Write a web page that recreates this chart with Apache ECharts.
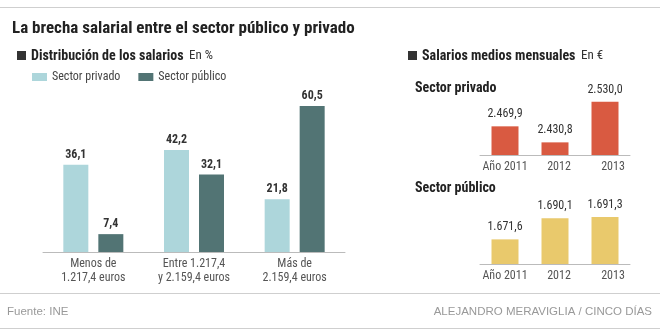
<!DOCTYPE html>
<html>
<head>
<meta charset="utf-8">
<script src="https://cdn.jsdelivr.net/npm/echarts@6/dist/echarts.min.js"></script>
<style>
  html, body { margin: 0; padding: 0; background: #fff; }
  #chart { width: 664px; height: 334px; }
</style>
</head>
<body>
<div id="chart"></div>
<script>
// Salary distribution by bracket (%)
const brackets = ['Menos de\n1.217,4 euros', 'Entre 1.217,4\ny 2.159,4 euros', 'Más de\n2.159,4 euros'];
const privadoPct = [36.1, 42.2, 21.8];
const publicoPct = [7.4, 32.1, 60.5];

// Average monthly salary (€)
const years = ['Año 2011', '2012', '2013'];
const privadoMedio = [2469.9, 2430.8, 2530.0];
const publicoMedio = [1671.6, 1690.1, 1691.3];

const FONT = "'Liberation Sans Narrow', 'Roboto Condensed', 'Arial Narrow', sans-serif";
const FOOT_FONT = "'Liberation Sans', Arial, sans-serif";
const C_PRIV = '#add6db';
const C_PUB = '#527474';
const C_PRIV_EUR = '#d95a41';
const C_PUB_EUR = '#e9c96c';

const fmt = (v, d) => {
  const parts = v.toFixed(d).split('.');
  parts[0] = parts[0].replace(/\B(?=(\d{3})+(?!\d))/g, '.');
  return parts.join(',');
};

const chart = echarts.init(document.getElementById('chart'), null, { renderer: 'canvas' });

const yearLabel = {
  interval: 0,
  formatter: (v, i) => ['{a|' + v + '}', '{b|' + v + '}', '{c|' + v + '}'][i],
  rich: {
    a: { color: '#555', fontSize: 12, fontFamily: FONT },
    b: { color: '#555', fontSize: 12, fontFamily: FONT, padding: [0, 0, 0, 8] },
    c: { color: '#555', fontSize: 12, fontFamily: FONT, padding: [0, 0, 0, 16] }
  },
  margin: 6
};

const line = (y) => ({
  type: 'line', shape: { x1: 0, y1: y, x2: 660, y2: y },
  style: { stroke: '#cfcfcf', lineWidth: 1 }
});
const txt = (x, y, text, size, weight, color, align, family) => ({
  type: 'text', x: x, y: y,
  style: { text: text, fontSize: size, fontWeight: weight, fill: color, fontFamily: family || FONT,
           textAlign: align || 'left', textVerticalAlign: 'middle' }
});

chart.setOption({
  animation: false,
  graphic: [
    line(7.5), line(293.5), line(328.5),
    txt(12, 29, 'La brecha salarial entre el sector público y privado', 17, 'bold', '#222'),
    { type: 'rect', shape: { x: 17, y: 51, width: 9, height: 9 }, style: { fill: '#333' } },
    txt(31, 56, 'Distribución de los salarios', 14, 'bold', '#222'),
    txt(189, 56, 'En %', 13, 'normal', '#333'),
    { type: 'rect', shape: { x: 408, y: 51, width: 9, height: 9 }, style: { fill: '#333' } },
    txt(422, 56, 'Salarios medios mensuales', 14, 'bold', '#222'),
    txt(581, 56, 'En €', 13, 'normal', '#333'),
    txt(415, 88, 'Sector privado', 14, 'bold', '#222'),
    txt(415, 188, 'Sector público', 14, 'bold', '#222'),
    txt(7, 312, 'Fuente: INE', 11.5, 'normal', '#999', 'left', FOOT_FONT),
    txt(652, 312, 'ALEJANDRO MERAVIGLIA / CINCO DÍAS', 11.5, 'normal', '#999', 'right', FOOT_FONT)
  ],
  legend: {
    left: 27, top: 66, itemWidth: 15, itemHeight: 8, itemGap: 18,
    icon: 'rect',
    data: ['Sector privado', 'Sector público'],
    textStyle: { fontFamily: FONT, fontSize: 12, color: '#444' }
  },
  grid: [
    { left: 43, top: 83, width: 302, height: 169 },
    { left: 480, top: 73, width: 150, height: 82 },
    { left: 480, top: 207, width: 150, height: 57 }
  ],
  xAxis: [
    { type: 'category', gridIndex: 0, data: brackets,
      axisLine: { lineStyle: { color: '#bbb' } }, axisTick: { show: false },
      axisLabel: { interval: 0, color: '#555', fontSize: 12, fontFamily: FONT, lineHeight: 14, margin: 5 } },
    { type: 'category', gridIndex: 1, data: years,
      axisLine: { lineStyle: { color: '#bbb' } }, axisTick: { show: false }, axisLabel: yearLabel },
    { type: 'category', gridIndex: 2, data: years,
      axisLine: { lineStyle: { color: '#bbb' } }, axisTick: { show: false }, axisLabel: yearLabel }
  ],
  yAxis: [
    { type: 'value', gridIndex: 0, min: 0, max: 70, show: false },
    { type: 'value', gridIndex: 1, min: 2400, max: 2600, show: false },
    { type: 'value', gridIndex: 2, min: 1650, max: 1700, show: false }
  ],
  series: [
    { name: 'Sector privado', type: 'bar', xAxisIndex: 0, yAxisIndex: 0, data: privadoPct,
      barWidth: 25, barGap: '40%', itemStyle: { color: C_PRIV },
      label: { show: true, position: 'top', distance: 4, fontFamily: FONT, fontSize: 12,
               fontWeight: 'bold', color: '#333', formatter: p => fmt(p.value, 1) } },
    { name: 'Sector público', type: 'bar', xAxisIndex: 0, yAxisIndex: 0, data: publicoPct,
      barWidth: 25, barGap: '40%', itemStyle: { color: C_PUB },
      label: { show: true, position: 'top', distance: 4, fontFamily: FONT, fontSize: 12,
               fontWeight: 'bold', color: '#333', formatter: p => fmt(p.value, 1) } },
    { name: 'Privado €', type: 'bar', xAxisIndex: 1, yAxisIndex: 1, data: privadoMedio,
      barWidth: 27, itemStyle: { color: C_PRIV_EUR },
      label: { show: true, position: 'top', distance: 6, fontFamily: FONT, fontSize: 12,
               color: '#333', formatter: p => fmt(p.value, 1) } },
    { name: 'Público €', type: 'bar', xAxisIndex: 2, yAxisIndex: 2, data: publicoMedio,
      barWidth: 27, itemStyle: { color: C_PUB_EUR },
      label: { show: true, position: 'top', distance: 6, fontFamily: FONT, fontSize: 12,
               color: '#333', formatter: p => fmt(p.value, 1) } }
  ]
});
</script>
</body>
</html>
